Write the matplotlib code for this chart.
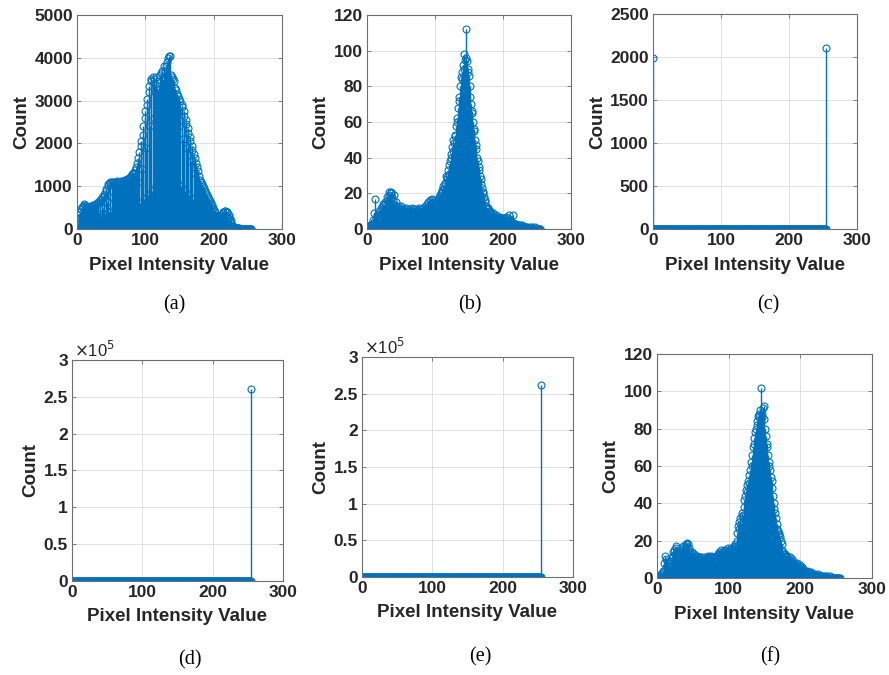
import numpy as np
import matplotlib
matplotlib.use('Agg')
import matplotlib.pyplot as plt
from matplotlib.ticker import FuncFormatter

plt.rcParams['font.family'] = ['Liberation Sans', 'DejaVu Sans']

# pixel intensity bins
intensity = np.arange(256)

# histogram (a)
counts_a = [
    260, 90, 150, 320, 400, 230, 470, 520, 300, 540, 580, 330, 560, 540, 310, 520,
    500, 290, 510, 530, 360, 520, 540, 250, 550, 560, 380, 570, 590, 300, 600, 620,
    360, 640, 680, 280, 700, 740, 480, 780, 820, 350, 880, 940, 620, 1000, 1060, 400,
    1080, 1100, 420, 1090, 1110, 760, 1080, 1060, 380, 1100, 1120, 700, 1090, 1070, 450, 1100,
    1120, 800, 1100, 1130, 400, 1120, 1150, 750, 1140, 1160, 420, 1180, 1200, 820, 1220, 1250,
    450, 1280, 1300, 900, 1320, 1380, 500, 1450, 1550, 1100, 1650, 1800, 600, 1950, 2050, 1400,
    2200, 2400, 700, 2600, 2750, 1900, 2900, 3050, 800, 3200, 3350, 2400, 3450, 3500, 900, 3550,
    3500, 2600, 3400, 3550, 1000, 3300, 3250, 2500, 3350, 3600, 1100, 3650, 3700, 2700, 3500, 3800,
    1200, 3700, 3800, 2900, 3900, 4000, 1300, 4050, 4050, 3000, 3600, 3550, 1200, 3500, 3450, 2600,
    3300, 3250, 1100, 3150, 3100, 2400, 3050, 3000, 1000, 2900, 2850, 2100, 2750, 2650, 900, 2550,
    2450, 1900, 2350, 2250, 800, 2150, 2050, 1600, 1950, 1850, 700, 1750, 1650, 1300, 1550, 1450,
    600, 1350, 1250, 950, 1150, 1100, 500, 1050, 1000, 780, 950, 900, 420, 850, 800, 600,
    750, 700, 350, 650, 600, 460, 550, 500, 300, 450, 400, 300, 330, 300, 200, 280,
    260, 200, 300, 330, 250, 380, 400, 300, 410, 420, 300, 400, 390, 260, 330, 280,
    180, 200, 150, 90, 70, 50, 40, 35, 30, 25, 20, 18, 15, 14, 12, 10,
    10, 9, 8, 8, 7, 6, 6, 5, 5, 4, 4, 3, 3, 2, 2, 1,
]

# histogram (b)
counts_b = [
    1, 0, 1, 1, 2, 1, 2, 3, 2, 5, 9, 4, 17, 6, 8, 5,
    7, 6, 10, 9, 8, 12, 11, 14, 13, 10, 15, 14, 12, 16, 18, 15,
    19, 21, 17, 20, 21, 18, 16, 19, 14, 13, 15, 12, 11, 13, 10, 12,
    9, 11, 13, 10, 12, 9, 11, 10, 8, 12, 9, 11, 10, 9, 8, 11,
    10, 9, 12, 8, 10, 11, 9, 7, 11, 10, 8, 9, 12, 10, 9, 8,
    11, 10, 9, 12, 10, 11, 13, 12, 14, 11, 15, 13, 12, 16, 14, 17,
    15, 16, 13, 15, 14, 12, 13, 15, 17, 16, 18, 17, 19, 20, 22, 21,
    24, 23, 26, 25, 30, 28, 29, 33, 31, 36, 38, 42, 40, 46, 44, 50,
    48, 53, 52, 58, 62, 60, 68, 74, 72, 80, 85, 84, 88, 92, 90, 98,
    95, 112, 96, 94, 88, 90, 86, 80, 74, 70, 66, 65, 60, 56, 55, 50,
    47, 45, 40, 38, 35, 33, 30, 28, 25, 23, 21, 20, 18, 16, 15, 13,
    12, 11, 12, 10, 9, 10, 8, 9, 7, 8, 9, 7, 6, 8, 7, 6,
    7, 6, 5, 7, 6, 5, 6, 4, 5, 6, 4, 5, 7, 5, 4, 6,
    5, 8, 4, 5, 3, 4, 8, 3, 2, 3, 2, 3, 2, 2, 1, 2,
    1, 2, 1, 1, 2, 1, 1, 1, 0, 1, 1, 0, 1, 0, 0, 1,
    0, 0, 1, 0, 0, 0, 0, 1, 0, 0, 0, 0, 0, 0, 0, 0,
]

# histogram (c): only the two extremes are populated
counts_c = [1985] + [0] * 254 + [2110]

# histograms (d) and (e): everything in the last bin
counts_d = [0] * 255 + [261000]
counts_e = [0] * 255 + [262000]

# histogram (f)
counts_f = [
    1, 0, 1, 1, 1, 2, 1, 2, 3, 4, 8, 12, 10, 6, 9, 7,
    5, 8, 6, 4, 9, 11, 12, 14, 15, 13, 17, 16, 14, 15, 13, 12,
    14, 13, 15, 16, 14, 17, 15, 16, 18, 17, 19, 18, 15, 16, 14, 13,
    12, 14, 11, 13, 10, 12, 11, 9, 12, 10, 11, 9, 10, 8, 11, 9,
    10, 9, 11, 8, 10, 9, 11, 12, 10, 11, 9, 10, 12, 11, 9, 10,
    11, 9, 12, 10, 11, 13, 12, 14, 13, 15, 12, 14, 13, 15, 14, 12,
    15, 13, 14, 16, 15, 14, 13, 15, 16, 14, 15, 17, 16, 18, 17, 20,
    24, 28, 26, 30, 32, 29, 33, 35, 34, 38, 42, 44, 47, 46, 50, 52,
    51, 55, 58, 62, 60, 66, 70, 72, 75, 78, 80, 84, 82, 87, 86, 88,
    90, 102, 88, 86, 91, 92, 85, 80, 76, 72, 70, 66, 62, 60, 58, 54,
    52, 48, 44, 40, 37, 35, 32, 29, 26, 25, 24, 23, 22, 20, 18, 15,
    14, 13, 12, 13, 11, 10, 12, 9, 10, 11, 9, 8, 10, 9, 8, 7,
    8, 7, 6, 8, 7, 6, 5, 7, 6, 5, 6, 4, 5, 4, 3, 4,
    3, 4, 3, 2, 3, 2, 2, 3, 2, 1, 2, 1, 1, 2, 1, 1,
    1, 2, 1, 1, 0, 1, 1, 0, 1, 0, 1, 0, 0, 1, 0, 0,
    0, 0, 1, 0, 0, 0, 0, 0, 0, 0, 0, 0, 0, 0, 0, 0,
]

captions = ['(a)', '(b)', '(c)', '(d)', '(e)', '(f)']
ylims = [5000, 120, 2500, 3e5, 3e5, 120]
yticks = [np.arange(0, 5001, 1000), np.arange(0, 121, 20), np.arange(0, 2501, 500),
          np.arange(0, 3.01e5, 0.5e5), np.arange(0, 3.01e5, 0.5e5), np.arange(0, 121, 20)]

# axes rectangles [left, bottom, width, height] in figure fractions
rects = [
    [0.0866, 0.6607, 0.2306, 0.3170],
    [0.4128, 0.6607, 0.2295, 0.3170],
    [0.7345, 0.6607, 0.2295, 0.3185],
    [0.0810, 0.1393, 0.2373, 0.3274],
    [0.4072, 0.1452, 0.2373, 0.3260],
    [0.7390, 0.1437, 0.2418, 0.3319],
]
# caption centres in pixels
cap_pos = [(174, 305), (470, 305), (768, 305), (190, 660), (480, 657), (770, 657)]

blue = '#0072BD'

fig = plt.figure(figsize=(8.89, 6.75), dpi=100)
all_counts = [counts_a, counts_b, counts_c, counts_d, counts_e, counts_f]

for i, counts in enumerate(all_counts):
    ax = fig.add_axes(rects[i])
    markerline, stemlines, baseline = ax.stem(intensity, counts, linefmt='C0-', markerfmt='C0o', basefmt=' ')
    plt.setp(stemlines, color=blue, linewidth=1.0)
    plt.setp(markerline, markerfacecolor='none', markeredgecolor=blue,
             markersize=5, markeredgewidth=0.8)

    ax.set_xlim(0, 300)
    ax.set_ylim(0, ylims[i])
    ax.set_xticks([0, 100, 200, 300])
    ax.set_yticks(yticks[i])
    if i in (3, 4):
        ax.yaxis.set_major_formatter(FuncFormatter(lambda v, p: '%g' % (v / 1e5)))
        ax.text(0.01, 1.0, r'$\times$10$^5$', transform=ax.transAxes, fontsize=12,
                ha='left', va='bottom', color='#262626')

    ax.grid(True, color='#dcdcdc', linewidth=0.6)
    ax.set_axisbelow(True)
    for s in ax.spines.values():
        s.set_color('#6e6e6e')
        s.set_linewidth(0.8)
    ax.tick_params(direction='in', length=3, width=0.6, color='#6e6e6e',
                   top=True, right=True, labelsize=12.5, labelcolor='#262626', pad=3)
    for lab in ax.get_xticklabels() + ax.get_yticklabels():
        lab.set_fontweight('bold')
    ax.set_xlabel('Pixel Intensity Value', fontsize=13.5, fontweight='bold', color='#262626', labelpad=6)
    ax.set_ylabel('Count', fontsize=13.5, fontweight='bold', color='#262626', labelpad=3)

    cx, cy = cap_pos[i]
    fig.text(cx / 889, 1 - cy / 675, captions[i], fontsize=14.5, family='Liberation Serif',
             ha='center', va='center')

fig.savefig('out.png', dpi=100)
